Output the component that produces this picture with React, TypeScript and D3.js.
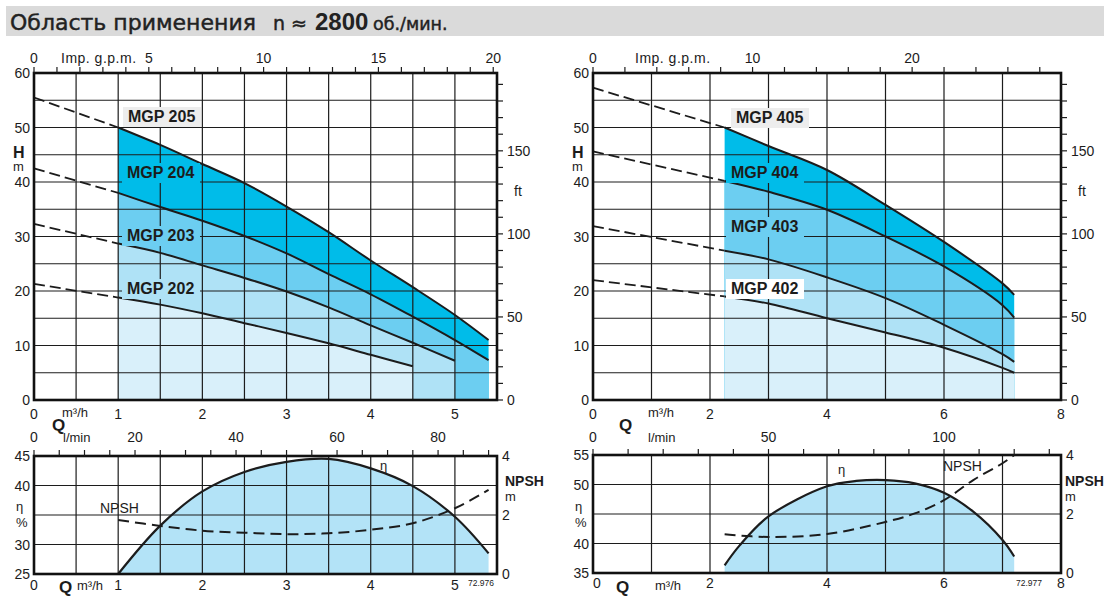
import React from "react";
import * as d3 from "d3";

const FONT = "'Liberation Sans', Arial, Helvetica, sans-serif";
const TITLE_FONT = "'DejaVu Sans', 'Liberation Sans', sans-serif";
const INK = "#1c1c1c";
const CYAN = "#00bce9";
const MID = "#6ccef1";
const LIGHT = "#afe2f6";
const PALE = "#d9f0fa";
const ETA_FILL = "#b3e3f7";

// unit conversions
const GPM = 3.6662; // imp. g.p.m. per m3/h
const FT = 3.28084; // ft per m
const LMIN = 16.6667; // l/min per m3/h

// MGP 200 series
const q2 = [1, 1.5, 2, 2.5, 3, 3.5, 4, 4.5, 5, 5.4];
const h205 = [50, 46.8, 43.3, 39.8, 35.5, 30.8, 25.6, 20.7, 15.6, 11.0];
const h204 = [38.0, 35.4, 32.9, 30.1, 26.9, 23.1, 19.4, 15.3, 11.0, 7.3];
const h203 = [28.7, 27.0, 24.7, 22.4, 19.9, 17.0, 13.7, 10.5, 7.2];
const h202 = [18.8, 17.5, 15.9, 14.1, 12.3, 10.4, 8.3, 6.2];
const shutoff2 = [55.5, 42.5, 32.3, 21.3];
const eta2 = [25, 33.2, 39.0, 42.3, 44.0, 44.5, 42.9, 39.9, 34.7, 28.5];
const npsh2 = [1.83, 1.63, 1.47, 1.4, 1.35, 1.38, 1.5, 1.72, 2.23, 2.85];

// MGP 400 series
const q4 = [2.25, 3, 4, 5, 6, 7, 7.2];
const h405 = [50.0, 46.6, 42.2, 35.8, 29.0, 21.4, 19.3];
const h404 = [40.2, 38.2, 34.9, 30.0, 24.5, 17.4, 15.1];
const h403 = [27.4, 25.8, 22.5, 18.7, 13.8, 8.4, 7.0];
const h402 = [19.0, 17.7, 15.0, 12.4, 9.6, 5.9, 5.0];
const shutoff4 = [57.3, 45.6, 31.9, 22.0];
const q4eta = [2.25, 2.5, 3, 4, 4.5, 5, 5.5, 6, 6.5, 7, 7.2];
const eta4 = [36.3, 39.6, 44.6, 49.7, 50.6, 50.75, 50.2, 48.6, 45.4, 40.6, 37.8];
const q4npsh = [2.25, 3, 4, 5, 5.5, 6, 6.5, 7, 7.2];
const npsh4 = [1.31, 1.22, 1.32, 1.73, 2.02, 2.47, 3.15, 3.72, 4.0];

// tick labels
const hLabels = [0, 10, 20, 30, 40, 50, 60];
const ftLabels = [0, 50, 100, 150];
const npshLabels = [0, 2, 4];
const qLabels2 = [0, 1, 2, 3, 4, 5];
const qLabels4 = [0, 2, 4, 6, 8];
const gpmLabels2 = [0, 5, 10, 15, 20];
const gpmLabels4 = [0, 10, 20];
const lminLabels2 = [0, 20, 40, 60, 80];
const lminLabels4 = [0, 50, 100];
const etaLabels2 = [45, 40, 30, 25];
const etaLabels4 = [55, 50, 40, 35];

type Pt = [number, number];
const zip = (q: number[], v: number[]): Pt[] => v.map((d, i) => [q[i], d]);
const smooth = d3.curveCatmullRom.alpha(0.5);

function HeadChart(p: any) {
  const x = d3.scaleLinear().domain([0, p.qMax]).range([p.x0, p.x1]);
  const y = d3.scaleLinear().domain([0, 60]).range([400, 73]);
  const xg = d3.scaleLinear().domain([0, p.qMax * GPM]).range([p.x0, p.x1]);
  const yf = d3.scaleLinear().domain([0, 60 * FT]).range([400, 73]);
  const area = d3
    .area<Pt>()
    .x((d) => x(d[0]))
    .y0(y(0))
    .y1((d) => y(d[1]))
    .curve(smooth);
  const line = d3
    .line<Pt>()
    .x((d) => x(d[0]))
    .y((d) => y(d[1]))
    .curve(smooth);
  const straight = d3
    .line<Pt>()
    .x((d) => x(d[0]))
    .y((d) => y(d[1]));

  const vGrid = d3.range(p.qGrid, p.qMax - 0.01, p.qGrid);
  const hGrid = d3.range(5, 60, 5);
  const gpmTicks = d3.range(0, p.qMax * GPM + 0.01, p.gpmStep);
  const ftTicks = d3.range(0, 60 * FT, 10);

  return (
    <g fontFamily={FONT} fill={INK}>
      {p.curves.map((c: any) => (
        <path key={c.name + "a"} d={area(c.pts) || ""} fill={c.fill} />
      ))}
      {vGrid.map((v: number) => (
        <line key={"v" + v} x1={x(v)} x2={x(v)} y1={73} y2={400} stroke={INK} strokeWidth={1.2} />
      ))}
      {hGrid.map((v: number) => (
        <line key={"h" + v} x1={p.x0} x2={p.x1} y1={y(v)} y2={y(v)} stroke={INK} strokeWidth={1.2} />
      ))}
      {p.curves.map((c: any) => (
        <g key={c.name + "l"}>
          <path
            d={straight([[0, c.shutoff], c.pts[0]]) || ""}
            fill="none"
            stroke={INK}
            strokeWidth={1.8}
            strokeDasharray="11,5"
          />
          <path d={line(c.pts) || ""} fill="none" stroke={INK} strokeWidth={2} />
        </g>
      ))}
      {p.curves.map((c: any) => (
        <g key={c.name + "t"}>
          <rect x={c.lx - 5} y={c.ly - 15} width={78} height={20} fill={c.bg} />
          <text x={c.lx} y={c.ly} fontSize={16} fontWeight="bold">
            {c.name}
          </text>
        </g>
      ))}
      <rect x={p.x0} y={73} width={p.x1 - p.x0} height={327} fill="none" stroke="#111" strokeWidth={2.6} />
      {gpmTicks.map((v: number) => (
        <line key={"g" + v} x1={xg(v)} x2={xg(v)} y1={73} y2={67} stroke={INK} strokeWidth={1.2} />
      ))}
      {p.gpmLabels.map((v: number) => (
        <text key={"gl" + v} x={xg(v)} y={63} fontSize={14} textAnchor="middle">
          {v}
        </text>
      ))}
      <text x={p.gpmTitleX} y={63} fontSize={14} letterSpacing={0.5}>
        Imp. g.p.m.
      </text>
      {ftTicks.map((v: number) => (
        <line key={"f" + v} x1={p.x1} x2={p.x1 + 6} y1={yf(v)} y2={yf(v)} stroke={INK} strokeWidth={1.2} />
      ))}
      {ftLabels.map((v: number) => (
        <text key={"fl" + v} x={p.x1 + 10} y={yf(v) + 5} fontSize={14}>
          {v}
        </text>
      ))}
      <text x={p.x1 + 17} y={196} fontSize={14}>
        ft
      </text>
      {hLabels.map((v: number) => (
        <text key={"hl" + v} x={p.x0 - 4} y={y(v) + 5} fontSize={14} textAnchor="end">
          {v}
        </text>
      ))}
      <text x={p.x0 - 21} y={158} fontSize={16} fontWeight="bold">
        H
      </text>
      <text x={p.x0 - 21} y={171} fontSize={13}>
        m
      </text>
      {p.qLabels.map((v: number) => (
        <text key={"ql" + v} x={x(v)} y={419} fontSize={14} textAnchor="middle">
          {v}
        </text>
      ))}
      <text x={p.unitX} y={417} fontSize={13}>
        m³/h
      </text>
      <text x={p.qX} y={431} fontSize={17} fontWeight="bold">
        Q
      </text>
    </g>
  );
}

function EffChart(p: any) {
  const x = d3.scaleLinear().domain([0, p.qMax]).range([p.x0, p.x1]);
  const y = d3.scaleLinear().domain(p.etaDomain).range([p.yBot, p.yTop]);
  const yn = d3.scaleLinear().domain([0, 4]).range([p.yBot, p.yTop]);
  const xl = d3.scaleLinear().domain([0, p.qMax * LMIN]).range([p.x0, p.x1]);
  const etaPts = zip(p.qEta, p.eta);
  const npshPts = zip(p.qNpsh, p.npsh);
  const area = d3
    .area<Pt>()
    .x((d) => x(d[0]))
    .y0(p.yBot)
    .y1((d) => y(d[1]))
    .curve(smooth);
  const line = d3
    .line<Pt>()
    .x((d) => x(d[0]))
    .y((d) => y(d[1]))
    .curve(smooth);
  const nline = d3
    .line<Pt>()
    .x((d) => x(d[0]))
    .y((d) => yn(d[1]))
    .curve(smooth);

  const vGrid = d3.range(p.qGrid, p.qMax - 0.01, p.qGrid);
  const hGrid = d3.range(p.etaDomain[0] + 5, p.etaDomain[1], 5);
  const lTicks = d3.range(0, p.qMax * LMIN + 0.01, p.lminStep);

  return (
    <g fontFamily={FONT} fill={INK}>
      <path d={area(etaPts) || ""} fill={ETA_FILL} />
      {vGrid.map((v: number) => (
        <line key={"v" + v} x1={x(v)} x2={x(v)} y1={p.yTop} y2={p.yBot} stroke={INK} strokeWidth={1.2} />
      ))}
      {hGrid.map((v: number) => (
        <line key={"h" + v} x1={p.x0} x2={p.x1} y1={y(v)} y2={y(v)} stroke={INK} strokeWidth={1.2} />
      ))}
      <path d={line(etaPts) || ""} fill="none" stroke={INK} strokeWidth={2.2} />
      <path d={nline(npshPts) || ""} fill="none" stroke={INK} strokeWidth={2} strokeDasharray="11,6" />
      <rect x={p.x0} y={p.yTop} width={p.x1 - p.x0} height={p.yBot - p.yTop} fill="none" stroke="#111" strokeWidth={2.6} />
      {lTicks.map((v: number) => (
        <line key={"t" + v} x1={xl(v)} x2={xl(v)} y1={p.yTop} y2={p.yTop - 6} stroke={INK} strokeWidth={1.2} />
      ))}
      {p.lminLabels.map((v: number) => (
        <text key={"ll" + v} x={xl(v)} y={442} fontSize={14} textAnchor="middle">
          {v}
        </text>
      ))}
      <text x={p.lminUnitX} y={442} fontSize={13}>
        l/min
      </text>
      {p.etaLabels.map((v: number) => (
        <text key={"el" + v} x={p.x0 - 4} y={y(v) + 5} fontSize={14} textAnchor="end">
          {v}
        </text>
      ))}
      <text x={p.x0 - 18} y={511} fontSize={13}>
        η
      </text>
      <text x={p.x0 - 18} y={527} fontSize={13}>
        %
      </text>
      {npshLabels.map((v: number) => (
        <text key={"nl" + v} x={p.x1 + 5} y={yn(v) + 5} fontSize={14}>
          {v}
        </text>
      ))}
      <text x={p.x1 + p.npshDx} y={486} fontSize={14} fontWeight="bold">
        NPSH
      </text>
      <text x={p.x1 + p.npshDx} y={501} fontSize={13}>
        m
      </text>
      {p.qLabels.map((v: number) => (
        <text key={"ql" + v} x={x(v) + (v === 0 ? p.zeroDx : 0)} y={p.qLabelY} fontSize={14} textAnchor="middle">
          {v}
        </text>
      ))}
      <text x={p.qX} y={593} fontSize={17} fontWeight="bold">
        Q
      </text>
      <text x={p.unitX} y={590} fontSize={13}>
        m³/h
      </text>
      <text x={p.codeX} y={586} fontSize={8.5}>
        {p.code}
      </text>
      <text x={p.etaTag[0]} y={p.etaTag[1]} fontSize={13}>
        η
      </text>
      <text x={p.npshTag[0]} y={p.npshTag[1]} fontSize={14}>
        NPSH
      </text>
    </g>
  );
}

export default function App() {
  const curves2 = [
    { name: "MGP 205", shutoff: shutoff2[0], pts: zip(q2, h205), fill: CYAN, bg: "#ededed", lx: 128, ly: 122 },
    { name: "MGP 204", shutoff: shutoff2[1], pts: zip(q2, h204), fill: MID, bg: CYAN, lx: 127, ly: 178 },
    { name: "MGP 203", shutoff: shutoff2[2], pts: zip(q2, h203), fill: LIGHT, bg: MID, lx: 127, ly: 241 },
    { name: "MGP 202", shutoff: shutoff2[3], pts: zip(q2, h202), fill: PALE, bg: LIGHT, lx: 127, ly: 294 },
  ];
  const curves4 = [
    { name: "MGP 405", shutoff: shutoff4[0], pts: zip(q4, h405), fill: CYAN, bg: "#ededed", lx: 736, ly: 123 },
    { name: "MGP 404", shutoff: shutoff4[1], pts: zip(q4, h404), fill: MID, bg: CYAN, lx: 731, ly: 178 },
    { name: "MGP 403", shutoff: shutoff4[2], pts: zip(q4, h403), fill: LIGHT, bg: MID, lx: 731, ly: 232 },
    { name: "MGP 402", shutoff: shutoff4[3], pts: zip(q4, h402), fill: PALE, bg: "#ffffff", lx: 731, ly: 294 },
  ];

  return (
    <svg
      width={1109}
      height={604}
      style={{ position: "absolute", left: 0, top: 0, background: "#fff" }}
    >
      <rect x={6} y={6} width={1098} height={30} fill="#dadada" />
      <g fill="#222" stroke="#222" strokeWidth={0.45}>
        <text x={10} y={30} fontFamily={TITLE_FONT} fontSize={22}>
          Область применения
        </text>
        <text x={273} y={30} fontFamily={TITLE_FONT} fontSize={19}>
          n ≈
        </text>
        <text x={315} y={30} fontFamily={FONT} fontSize={24} fontWeight="bold" strokeWidth={0}>
          2800
        </text>
        <text x={373} y={30} fontFamily={TITLE_FONT} fontSize={17.5}>
          об./мин.
        </text>
      </g>

      <HeadChart
        x0={34}
        x1={497}
        qMax={5.5}
        qGrid={0.5}
        gpmStep={1}
        gpmLabels={gpmLabels2}
        gpmTitleX={61}
        qLabels={qLabels2}
        unitX={62}
        qX={52}
        curves={curves2}
      />
      <EffChart
        x0={34}
        x1={497}
        qMax={5.5}
        qGrid={0.5}
        yTop={456}
        yBot={574}
        etaDomain={[25, 45]}
        etaLabels={etaLabels2}
        lminStep={5}
        lminLabels={lminLabels2}
        lminUnitX={63}
        qLabels={qLabels2}
        qLabelY={590}
        zeroDx={0}
        qX={59}
        unitX={77}
        code="72.976"
        codeX={468}
        npshDx={8}
        qEta={q2}
        eta={eta2}
        qNpsh={q2}
        npsh={npsh2}
        etaTag={[380, 470]}
        npshTag={[100, 513]}
      />

      <HeadChart
        x0={593}
        x1={1061}
        qMax={8}
        qGrid={1}
        gpmStep={2}
        gpmLabels={gpmLabels4}
        gpmTitleX={635}
        qLabels={qLabels4}
        unitX={648}
        qX={619}
        curves={curves4}
      />
      <EffChart
        x0={593}
        x1={1061}
        qMax={8}
        qGrid={1}
        yTop={455}
        yBot={573}
        etaDomain={[35, 55]}
        etaLabels={etaLabels4}
        lminStep={10}
        lminLabels={lminLabels4}
        lminUnitX={648}
        qLabels={qLabels4}
        qLabelY={588}
        zeroDx={4}
        qX={616}
        unitX={655}
        code="72.977"
        codeX={1016}
        npshDx={4}
        qEta={q4eta}
        eta={eta4}
        qNpsh={q4npsh}
        npsh={npsh4}
        etaTag={[838, 474]}
        npshTag={[943, 471]}
      />
    </svg>
  );
}
